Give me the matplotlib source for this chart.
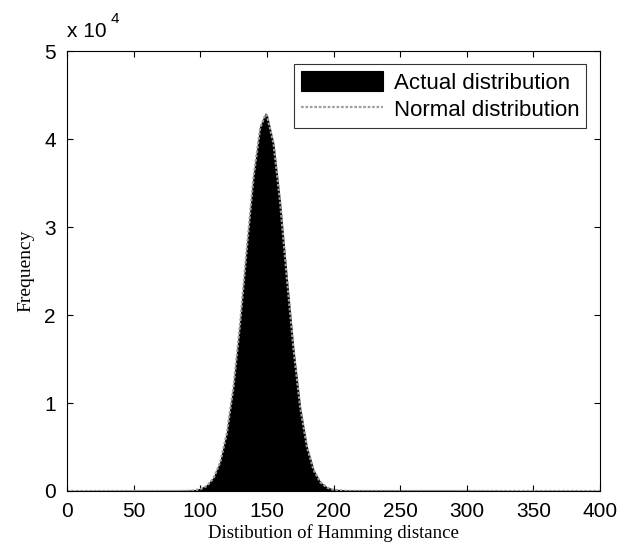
import matplotlib.pyplot as plt

# Hamming distance (x) and frequency of the actual distribution
dist = [0, 20, 40, 60, 80, 90, 95, 100, 105, 110, 115, 120, 125, 130, 135, 140, 145,
        149, 150, 155, 160, 165, 170, 175, 180, 185, 190, 195, 200, 210, 230, 260,
        290, 320, 340, 360, 400]
actual = [0, 15, 20, 25, 30, 40, 80, 250, 650, 1500, 3300, 6700, 12000, 19300, 27800,
          35800, 41400, 42900, 42700, 39400, 32600, 24100, 16000, 9400, 5000, 2350, 1000,
          400, 150, 60, 50, 40, 35, 20, 0, 15, 0]

# fitted normal curve
norm_x = [0, 80, 90, 95, 100, 105, 110, 115, 120, 125, 130, 135, 140, 145, 149, 150,
          155, 160, 165, 170, 175, 180, 185, 190, 195, 200, 210, 400]
norm_y = [0, 0, 19, 66, 206, 580, 1456, 3280, 6600, 11900, 19200, 27700, 35700, 41300,
          42800, 42700, 39500, 32700, 24200, 16100, 9500, 5060, 2400, 1020, 390, 132, 10, 0]

yticks = [0, 10000, 20000, 30000, 40000, 50000]
ytick_labels = ['0', '1', '2', '3', '4', '5']
xticks = [0, 50, 100, 150, 200, 250, 300, 350, 400]

sans = 'Liberation Sans'
serif = 'Liberation Serif'

fig = plt.figure(figsize=(6.34, 5.51), dpi=100)
ax = fig.add_axes([0.1057, 0.1089, 0.8407, 0.7985])

ax.fill_between(dist, actual, color='black', lw=0.8, label='Actual distribution')
ax.plot(norm_x, norm_y, color='0.62', lw=1.6, ls=(0, (1.2, 0.8)),
        label='Normal distribution')

ax.set_xlim(0, 400)
ax.set_ylim(0, 50000)
ax.set_xticks(xticks)
ax.set_yticks(yticks)
ax.set_yticklabels(ytick_labels)
ax.tick_params(direction='in', top=True, right=True, length=4, labelsize=15, pad=8)
for lbl in ax.get_xticklabels() + ax.get_yticklabels():
    lbl.set_fontfamily(sans)

ax.set_xlabel('Distibution of Hamming distance', fontsize=13.5, family=serif, labelpad=2)
ax.set_ylabel('Frequency', fontsize=14, family=serif, labelpad=7)

# MATLAB style exponent label
fig.text(0.105, 0.925, 'x 10', fontsize=15, family=sans, ha='left', va='bottom')
fig.text(0.174, 0.952, '4', fontsize=11, family=sans, ha='left', va='bottom')

leg = ax.legend(loc='upper right', bbox_to_anchor=(0.974, 0.970), borderaxespad=0,
                prop={'family': sans, 'size': 16}, frameon=True, fancybox=False,
                edgecolor='black', handlelength=3.7, handleheight=1.05, borderpad=0.3,
                labelspacing=0.2, handletextpad=0.5)
leg.get_frame().set_linewidth(0.8)

plt.savefig('out.png', dpi=100)
